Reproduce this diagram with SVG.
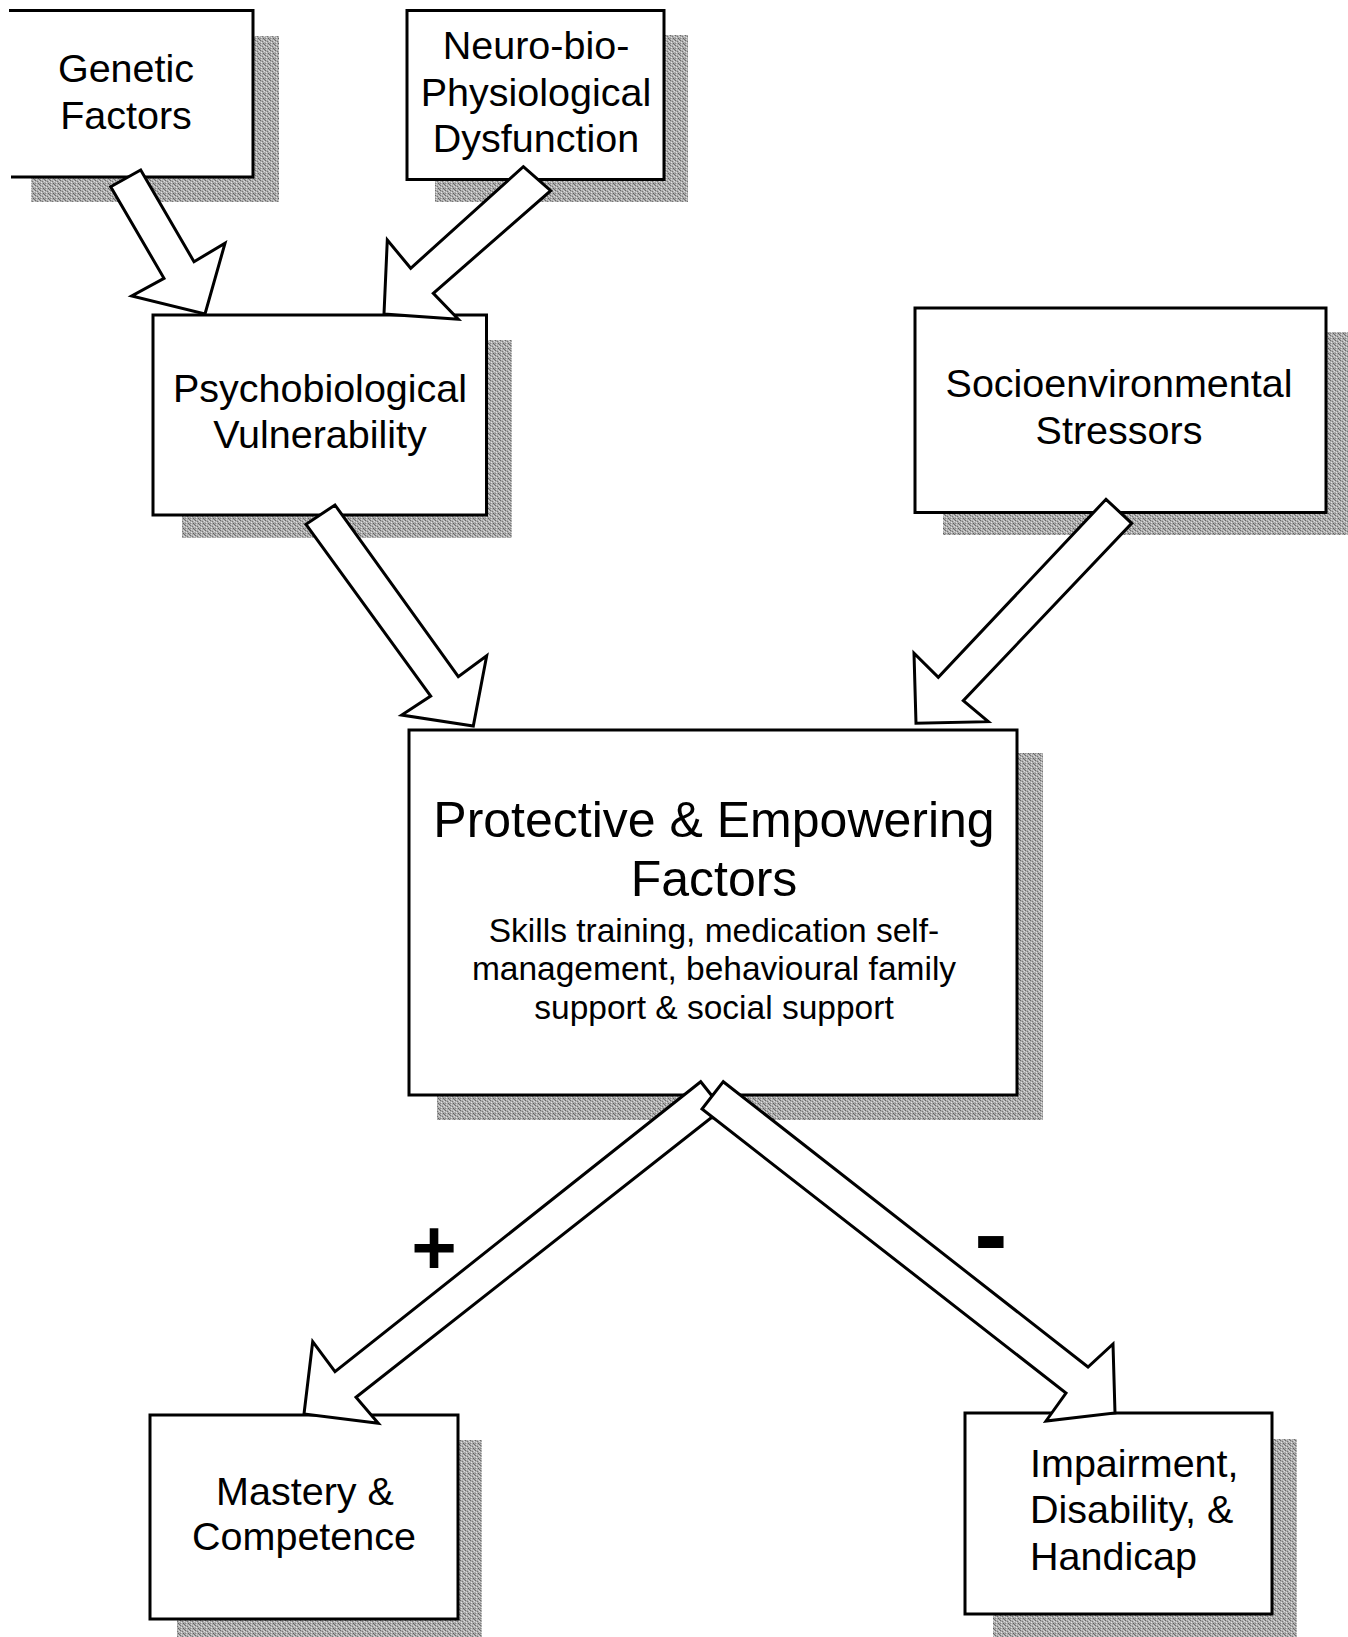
<svg xmlns="http://www.w3.org/2000/svg" width="1348" height="1637" viewBox="0 0 1348 1637">
<defs>
<pattern id="stip" width="5" height="5" patternUnits="userSpaceOnUse">
<rect width="5" height="5" fill="#acacac"/>
<rect x="0" y="0" width="1" height="1" fill="#6a6a6a"/>
<rect x="2" y="1" width="1" height="1" fill="#787878"/>
<rect x="4" y="1" width="1" height="1" fill="#dcdcdc"/>
<rect x="1" y="2" width="1" height="1" fill="#e2e2e2"/>
<rect x="3" y="3" width="1" height="1" fill="#5e5e5e"/>
<rect x="3" y="0" width="1" height="1" fill="#d0d0d0"/>
<rect x="0" y="3" width="1" height="1" fill="#8a8a8a"/>
<rect x="4" y="4" width="1" height="1" fill="#707070"/>
<rect x="1" y="4" width="1" height="1" fill="#d4d4d4"/>
</pattern>
</defs>
<style>
.shadow{fill:url(#stip);stroke:none}
.box{fill:#ffffff;stroke:#000000;stroke-width:3}
.edge{fill:none;stroke:#000000;stroke-width:3}
.lbl{font-family:"Liberation Sans",Arial,sans-serif;font-size:39.5px;fill:#000000;text-anchor:middle}
.big{font-family:"Liberation Sans",Arial,sans-serif;font-size:50px;fill:#000000;text-anchor:middle}
.sub{font-family:"Liberation Sans",Arial,sans-serif;font-size:33.5px;fill:#000000;text-anchor:middle}
.sign{font-family:"Liberation Sans",Arial,sans-serif;font-weight:bold;fill:#000000;text-anchor:middle}
.arrow{fill:#ffffff;stroke:#000000;stroke-width:3;stroke-linejoin:miter}
</style>
<rect width="1348" height="1637" fill="#ffffff"/>

<g id="node-genetic">
<rect class="shadow" x="31" y="36" width="248" height="166"/>
<rect x="0" y="10" width="253" height="167" fill="#ffffff"/>
<path class="edge" d="M9,10.5 H253 V177 H11"/>
<text class="lbl" x="126" y="82">Genetic</text>
<text class="lbl" x="126" y="129">Factors</text>
</g>

<g id="node-neuro">
<rect class="shadow" x="435" y="35" width="253" height="167"/>
<rect class="box" x="407" y="10.5" width="257" height="169"/>
<text class="lbl" x="536" y="59">Neuro-bio-</text>
<text class="lbl" x="536" y="106">Physiological</text>
<text class="lbl" x="536" y="152">Dysfunction</text>
</g>

<g id="node-psych">
<rect class="shadow" x="182" y="340" width="330" height="198"/>
<rect class="box" x="153" y="315" width="333.5" height="200"/>
<text class="lbl" x="320" y="402">Psychobiological</text>
<text class="lbl" x="320" y="448">Vulnerability</text>
</g>

<g id="node-socio">
<rect class="shadow" x="943" y="332" width="410" height="203"/>
<rect class="box" x="915" y="308" width="411" height="204.5"/>
<text class="lbl" x="1119" y="397">Socioenvironmental</text>
<text class="lbl" x="1119" y="444">Stressors</text>
</g>

<g id="node-protective">
<rect class="shadow" x="437" y="753" width="606" height="367"/>
<rect class="box" x="409" y="730" width="608" height="365"/>
<text class="big" x="714" y="837">Protective &amp; Empowering</text>
<text class="big" x="714" y="896">Factors</text>
<text class="sub" x="714" y="942">Skills training, medication self-</text>
<text class="sub" x="714" y="980">management, behavioural family</text>
<text class="sub" x="714" y="1019">support &amp; social support</text>
</g>

<g id="node-mastery">
<rect class="shadow" x="177" y="1440" width="305" height="210"/>
<rect class="box" x="150" y="1415" width="308" height="204"/>
<text class="lbl" x="305" y="1505">Mastery &amp;</text>
<text class="lbl" x="304" y="1550">Competence</text>
</g>

<g id="node-impairment">
<rect class="shadow" x="993" y="1439" width="304" height="210"/>
<rect class="box" x="965" y="1413" width="307" height="201"/>
<text class="lbl" x="1030" y="1477" style="text-anchor:start">Impairment,</text>
<text class="lbl" x="1030" y="1523" style="text-anchor:start">Disability, &amp;</text>
<text class="lbl" x="1030" y="1570" style="text-anchor:start">Handicap</text>
</g>

<g id="connectors">
<polygon class="arrow" points="110.7,186.7 140.7,170 194,261.7 225,243.3 205,314 131.7,296 164,278.3"/>
<polygon class="arrow" points="523.3,166.7 550.7,190.7 433.3,293.3 458.3,319.3 384,314 387.3,240 410.7,268.3"/>
<polygon class="arrow" points="335,505 458.3,676.7 486.7,655.7 473.3,726 401.7,715 430.7,696 306,524.3"/>
<polygon class="arrow" points="1106,499.3 1131.7,523.3 963.3,700.7 988.3,721.7 916,723.3 914,653.3 938.3,677.3"/>
<polygon class="arrow" points="700.7,1081.7 335,1371.7 312.7,1341.7 304,1414 378.3,1423.3 356,1397.3 722.4,1109"/>
<polygon class="arrow" points="723.3,1081.7 1088,1367 1113,1344 1115,1413 1046,1421 1066,1393 702,1109"/>
<text class="sign" x="434" y="1274" font-size="78">+</text>
<text class="sign" x="991" y="1268" font-size="100">-</text>
</g>
</svg>
